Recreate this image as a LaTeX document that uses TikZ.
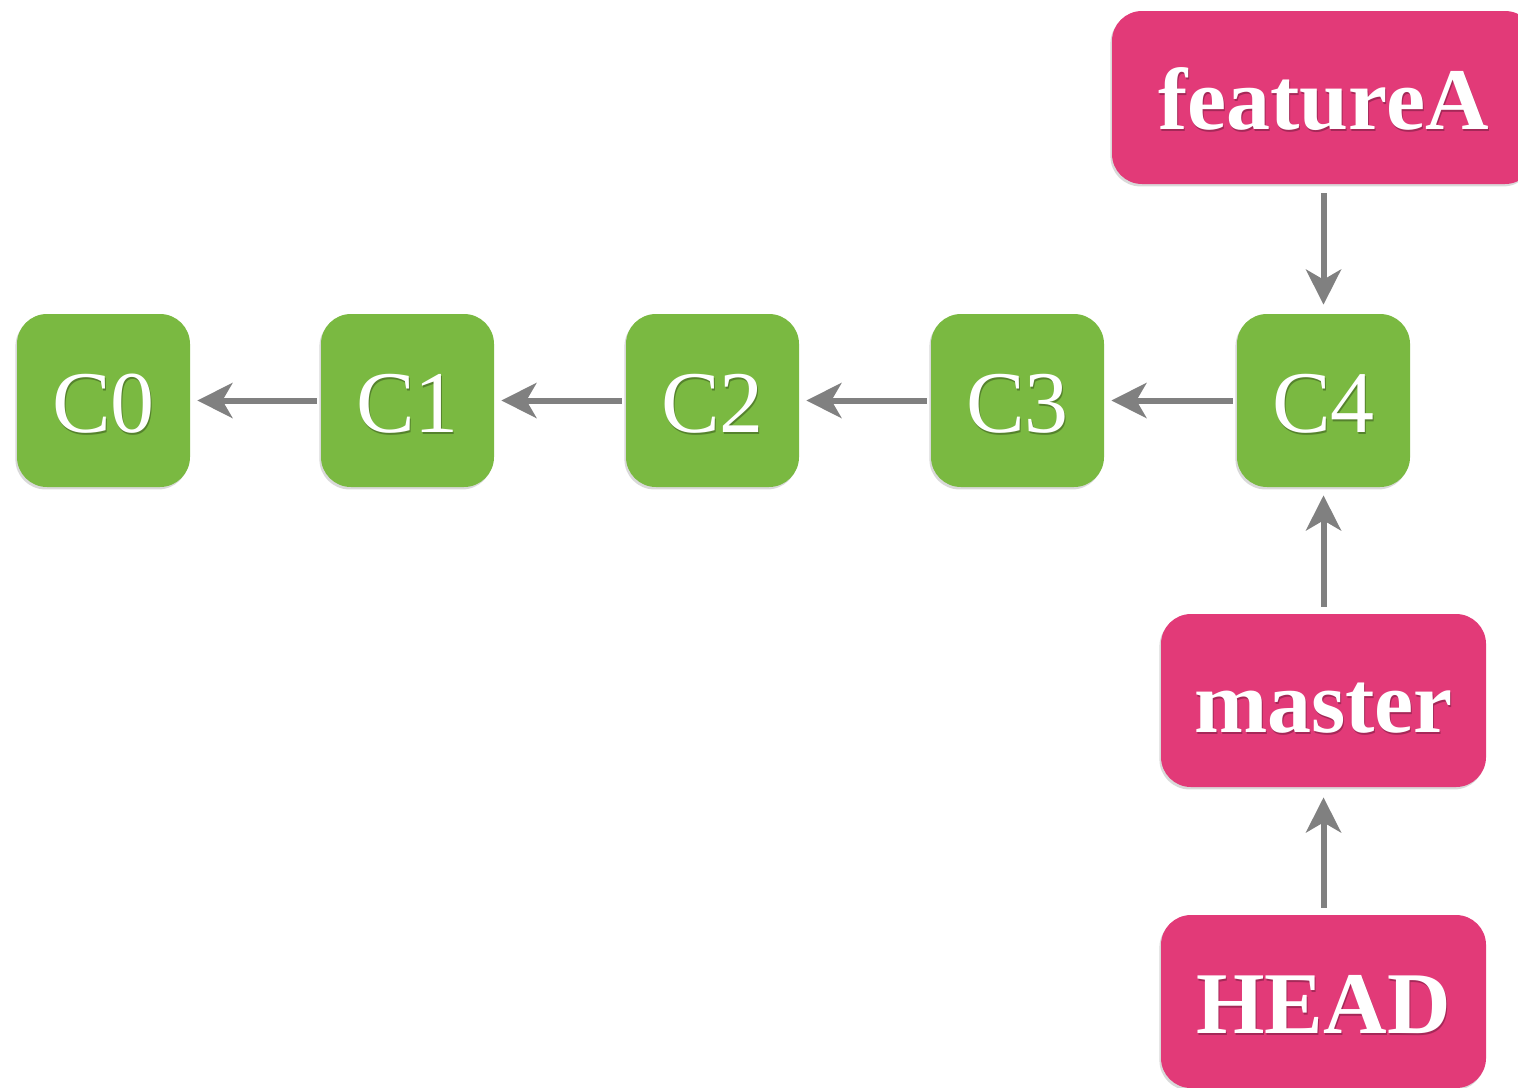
\documentclass[tikz,border=0pt]{standalone}
\usepackage{fontspec}
\setmainfont{Liberation Serif}
\usetikzlibrary{arrows.meta,shadows}
\definecolor{gitpink}{RGB}{226,58,120}
\definecolor{gitgreen}{RGB}{122,185,65}
\definecolor{arrowgray}{RGB}{128,128,128}
\definecolor{pinkshade}{RGB}{165,40,88}
\definecolor{greenshade}{RGB}{85,130,45}
\newcommand\shadowedtext[2]{\leavevmode\rlap{\kern0.5pt\raisebox{-1.1pt}{\textcolor{#1}{#2}}}\textcolor{white}{#2}}
\tikzset{
  boxshadow/.style={drop shadow={shadow xshift=-0.8pt, shadow yshift=-1.2pt, opacity=0.15, fill=black}},
  commit/.style={rounded corners=15pt, fill=gitgreen, boxshadow, minimum width=86.5pt, minimum height=86.5pt,
    inner sep=0pt, text height=31.5pt, text depth=0pt, font=\fontsize{44}{50}\selectfont},
  branch/.style={rounded corners=15pt, fill=gitpink, boxshadow, minimum height=86.5pt,
    inner sep=0pt, text height=31.5pt, text depth=0pt, font=\fontsize{44}{50}\selectfont\bfseries},
  link/.style={draw=arrowgray, line width=3pt, -{Stealth[length=17.5pt, width=17.5pt, inset=5pt]}}
}
\begin{document}
\begin{tikzpicture}[x=0.5pt,y=-0.5pt]
\path[use as bounding box, clip] (0,0) rectangle (1518,1087);
\node[commit] (C0) at (103.5,400.5) {\shadowedtext{greenshade}{C0}};
\node[commit] (C1) at (407.5,400.5) {\shadowedtext{greenshade}{C1}};
\node[commit] (C2) at (712.5,400.5) {\shadowedtext{greenshade}{C2}};
\node[commit] (C3) at (1017.5,400.5) {\shadowedtext{greenshade}{C3}};
\node[commit] (C4) at (1323.5,400.5) {\shadowedtext{greenshade}{C4}};
\node[branch, minimum width=211.5pt] (featureA) at (1323.5,97.5) {\shadowedtext{pinkshade}{featureA}};
\node[branch, minimum width=162.5pt] (master) at (1323.5,700.5) {\shadowedtext{pinkshade}{master}};
\node[branch, minimum width=162.5pt] (HEAD) at (1323.5,1001.5) {\shadowedtext{pinkshade}{HEAD}};
\draw[link, shorten <=2pt, shorten >=3.5pt] (C1.west) -- (C0.east);
\draw[link, shorten <=2pt, shorten >=3.5pt] (C2.west) -- (C1.east);
\draw[link, shorten <=2pt, shorten >=3.5pt] (C3.west) -- (C2.east);
\draw[link, shorten <=2pt, shorten >=3.5pt] (C4.west) -- (C3.east);
\draw[link, shorten <=4.5pt, shorten >=4.5pt] (featureA.south) -- (C4.north);
\draw[link, shorten <=3.5pt, shorten >=4pt] (master.north) -- (C4.south);
\draw[link, shorten <=3.5pt, shorten >=5pt] (HEAD.north) -- (master.south);
\end{tikzpicture}
\end{document}
